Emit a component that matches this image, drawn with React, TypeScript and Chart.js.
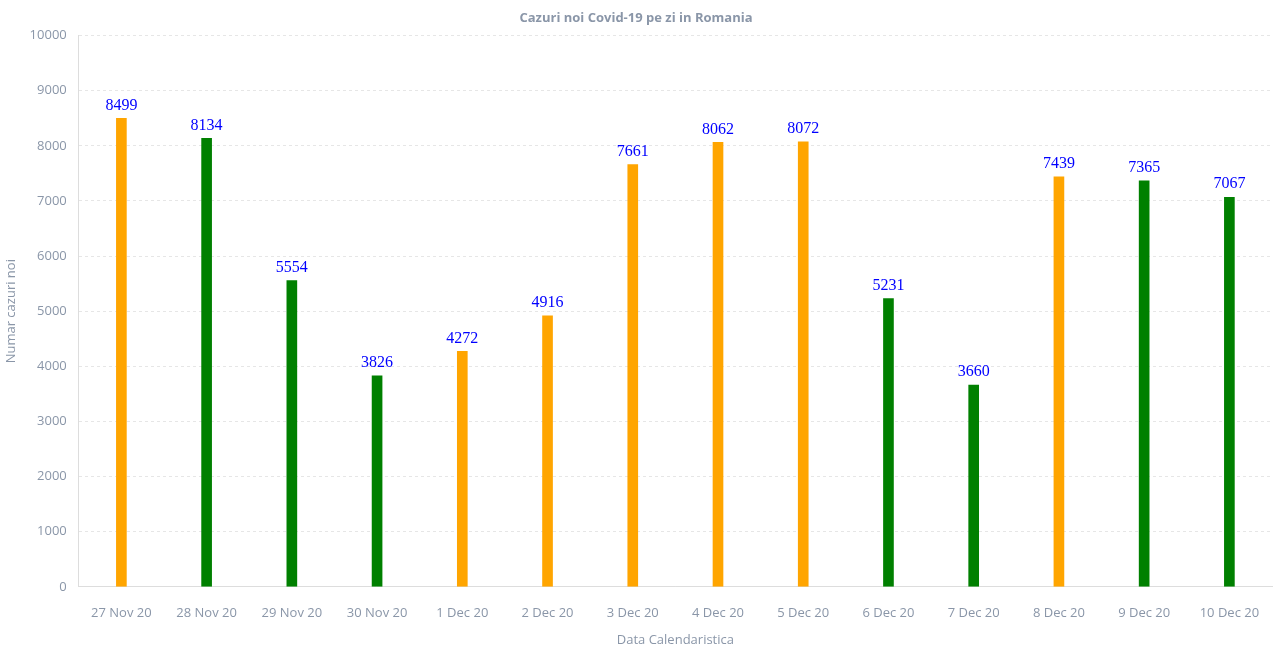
import React, { useEffect, useRef } from "react";
import { Chart, registerables } from "chart.js";

Chart.register(...registerables);

const categories = ["27 Nov 20", "28 Nov 20", "29 Nov 20", "30 Nov 20", "1 Dec 20", "2 Dec 20", "3 Dec 20", "4 Dec 20", "5 Dec 20", "6 Dec 20", "7 Dec 20", "8 Dec 20", "9 Dec 20", "10 Dec 20"];
const cases = [8499, 8134, 5554, 3826, 4272, 4916, 7661, 8062, 8072, 5231, 3660, 7439, 7365, 7067];
const barColors = ["#FFA500", "#008000", "#008000", "#008000", "#FFA500", "#FFA500", "#FFA500", "#FFA500", "#FFA500", "#008000", "#008000", "#FFA500", "#008000", "#008000"];

const gray = "#8a96a8";
const font = "'Open Sans', 'Noto Sans', sans-serif";

const labelPlugin = {
  id: "barLabels",
  afterDatasetsDraw(chart: any) {
    const ctx = chart.ctx;
    ctx.save();
    ctx.font = "16px 'Liberation Serif', 'Times New Roman', serif";
    ctx.fillStyle = "#0000ff";
    ctx.textAlign = "center";
    ctx.textBaseline = "bottom";
    const meta = chart.getDatasetMeta(0);
    meta.data.forEach((el: any, i: number) => {
      ctx.fillText(String(chart.data.datasets[0].data[i]), el.x, el.y - 5);
    });
    ctx.restore();
  },
};

export default function App() {
  const ref = useRef<HTMLCanvasElement>(null);
  useEffect(() => {
    document.body.style.margin = "0";
    const chart = new Chart(ref.current!, {
      type: "bar",
      data: {
        labels: categories,
        datasets: [{ data: cases, backgroundColor: barColors, barThickness: 10 }],
      },
      plugins: [labelPlugin],
      options: {
        animation: false,
        responsive: true,
        maintainAspectRatio: false,
        layout: { padding: { left: 0, right: 3, top: 0, bottom: 4 } },
        plugins: {
          legend: { display: false },
          tooltip: { enabled: false },
          title: {
            display: true,
            text: "Cazuri noi Covid-19 pe zi in Romania",
            color: gray,
            font: { family: font, size: 13, weight: "bold" },
            padding: { top: 10, bottom: 10 },
          },
        },
        scales: {
          x: {
            grid: { display: false },
            border: { display: true, color: "#dddddd" },
            ticks: { color: gray, font: { family: font, size: 13 }, padding: 11, maxRotation: 0 },
            title: {
              display: true,
              text: "Data Calendaristica",
              color: gray,
              font: { family: font, size: 13 },
              padding: { top: 0, bottom: 0 },
            },
          },
          y: {
            min: 0,
            max: 10000,
            ticks: {
              stepSize: 1000,
              color: gray,
              font: { family: font, size: 13 },
              padding: 12,
              callback: (v: any) => String(v),
            },
            grid: { color: "#e6e6e6", drawTicks: false },
            border: { display: true, color: "#dddddd", dash: [3, 3] },
            title: {
              display: true,
              text: "Numar cazuri noi",
              color: gray,
              font: { family: font, size: 13 },
              padding: { top: 3, bottom: -1 },
            },
          },
        },
      },
    } as any);
    return () => chart.destroy();
  }, []);
  return (
    <div style={{ position: "relative", width: "1275px", height: "652px" }}>
      <canvas ref={ref} />
    </div>
  );
}
